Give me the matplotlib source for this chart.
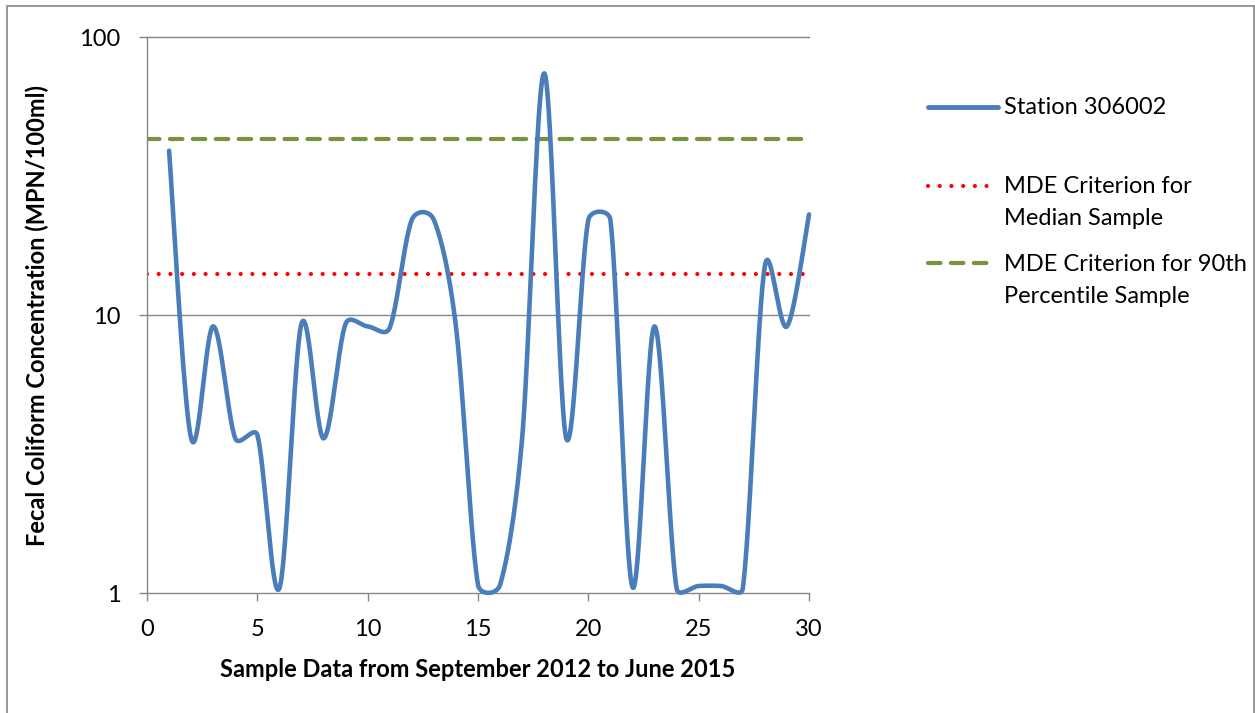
import numpy as np
import matplotlib
matplotlib.use("Agg")
import matplotlib.pyplot as plt
from matplotlib.lines import Line2D
from matplotlib.patches import Rectangle
from matplotlib.ticker import NullLocator

# ---------------- data ----------------
sample_no = list(range(1, 31))
fecal_coliform = [39, 3.6, 9.1, 3.6, 3.7, 1.04, 9.3, 3.6, 9.3, 9.1,
                  9.0, 22, 22, 9.1, 1.07, 1.07, 3.6, 74, 3.6, 22,
                  22, 1.05, 9.1, 1.04, 1.06, 1.06, 1.04, 15, 9.1, 23]
median_criterion = 14
p90_criterion = 43
x_ticks = [0, 5, 10, 15, 20, 25, 30]
y_ticks = [1, 10, 100]
y_tick_labels = ["1", "10", "100"]
series_labels = ["Station 306002",
                 "MDE Criterion for\nMedian Sample",
                 "MDE Criterion for 90th\nPercentile Sample"]
x_title = "Sample Data from September 2012 to June 2015"
y_title = "Fecal Coliform Concentration (MPN/100ml)"

# ---------------- style ----------------
plt.rcParams['font.family'] = ['Lato', 'DejaVu Sans']
BLUE = "#4A7EBB"
RED = "#FF0000"
GREEN = "#77933C"
GRAY = "#868686"
FS = 17

W, H = 1255, 713
fig = plt.figure(figsize=(W / 100, H / 100), dpi=100)
ax = fig.add_axes([147 / W, 1 - 593 / H, 662 / W, 556 / H])
ax.set_yscale('log')
ax.set_xlim(0, 30)
ax.set_ylim(1, 100)


def excel_smooth(ax, xs, ys, n=60):
    """Excel-like smoothed line: Bezier segments built in display space."""
    P = ax.transData.transform(np.column_stack([xs, ys]))
    out = []
    m = len(P)
    for i in range(m - 1):
        p0 = P[i - 1] if i > 0 else P[i]
        p1 = P[i]
        p2 = P[i + 1]
        p3 = P[i + 2] if i + 2 < m else P[i + 1]
        d12 = np.hypot(*(p2 - p1))
        d02 = np.hypot(*(p2 - p0))
        d13 = np.hypot(*(p3 - p1))
        f1 = 1 / 6 if (d02 / 6 < d12 / 2 or d02 == 0) else d12 / 2 / d02
        f2 = 1 / 6 if (d13 / 6 < d12 / 2 or d13 == 0) else d12 / 2 / d13
        c1 = p1 + (p2 - p0) * f1
        c2 = p2 - (p3 - p1) * f2
        t = np.linspace(0, 1, n)[:, None]
        seg = ((1 - t) ** 3) * p1 + 3 * ((1 - t) ** 2) * t * c1 + \
            3 * (1 - t) * t ** 2 * c2 + t ** 3 * p2
        out.append(seg if i == 0 else seg[1:])
    pts = np.vstack(out)
    data = ax.transData.inverted().transform(pts)
    return data[:, 0], data[:, 1]


sx, sy = excel_smooth(ax, sample_no, fecal_coliform)

# gridlines
for yv in y_ticks[1:]:
    ax.axhline(yv, color=GRAY, lw=1.0, zorder=1, clip_on=False)

ax.plot([0, 30], [p90_criterion] * 2, color=GREEN, lw=3.0,
        dashes=(3.0, 2.5), dash_capstyle='round', zorder=2)
ax.plot([0, 30], [median_criterion] * 2, color=RED, lw=3.0,
        dashes=(0.01, 2.8), dash_capstyle='round', zorder=2)
ax.plot(sx, sy, color=BLUE, lw=3.3, solid_capstyle='round',
        solid_joinstyle='round', zorder=3, clip_on=False)

for s in ['top', 'right']:
    ax.spines[s].set_visible(False)
for s in ['left', 'bottom']:
    ax.spines[s].set_color(GRAY)
    ax.spines[s].set_linewidth(1.0)

ax.set_xticks(x_ticks)
ax.set_xticklabels([str(v) for v in x_ticks])
ax.set_yticks(y_ticks)
ax.set_yticklabels(y_tick_labels)
ax.yaxis.set_minor_locator(NullLocator())
ax.tick_params(axis='both', which='major', length=6, width=1.0,
               color=GRAY, pad=13, labelsize=FS, labelcolor='black')

ax.set_xlabel(x_title, fontsize=FS, fontweight='bold', labelpad=13)
ax.set_ylabel(y_title, fontsize=FS, fontweight='bold', labelpad=22)

# ---------------- legend (manual) ----------------
def fx(px):
    return px / W


def fy(py):
    return 1 - py / H


fig.add_artist(Line2D([fx(928), fx(998)], [fy(107), fy(107)], color=BLUE,
                      lw=3.5, solid_capstyle='round'))
fig.add_artist(Line2D([fx(928), fx(992)], [fy(186), fy(186)], color=RED,
                      lw=3.0, dashes=(0.01, 2.8), dash_capstyle='round'))
fig.add_artist(Line2D([fx(928), fx(990)], [fy(263), fy(263)], color=GREEN,
                      lw=3.0, dashes=(3.0, 2.5), dash_capstyle='round'))

fig.text(fx(1004), fy(107), series_labels[0], fontsize=FS, va='center', ha='left')
fig.text(fx(1004), fy(176), series_labels[1], fontsize=FS, va='top', ha='left',
         linespacing=1.65)
fig.text(fx(1004), fy(254), series_labels[2], fontsize=FS, va='top', ha='left',
         linespacing=1.65)

# outer border
fig.add_artist(Rectangle((fx(7), -0.05), fx(1254) - fx(7), fy(6) + 0.05,
                         transform=fig.transFigure, fill=False,
                         edgecolor=GRAY, lw=1.2))

fig.savefig("out.png", dpi=100)
